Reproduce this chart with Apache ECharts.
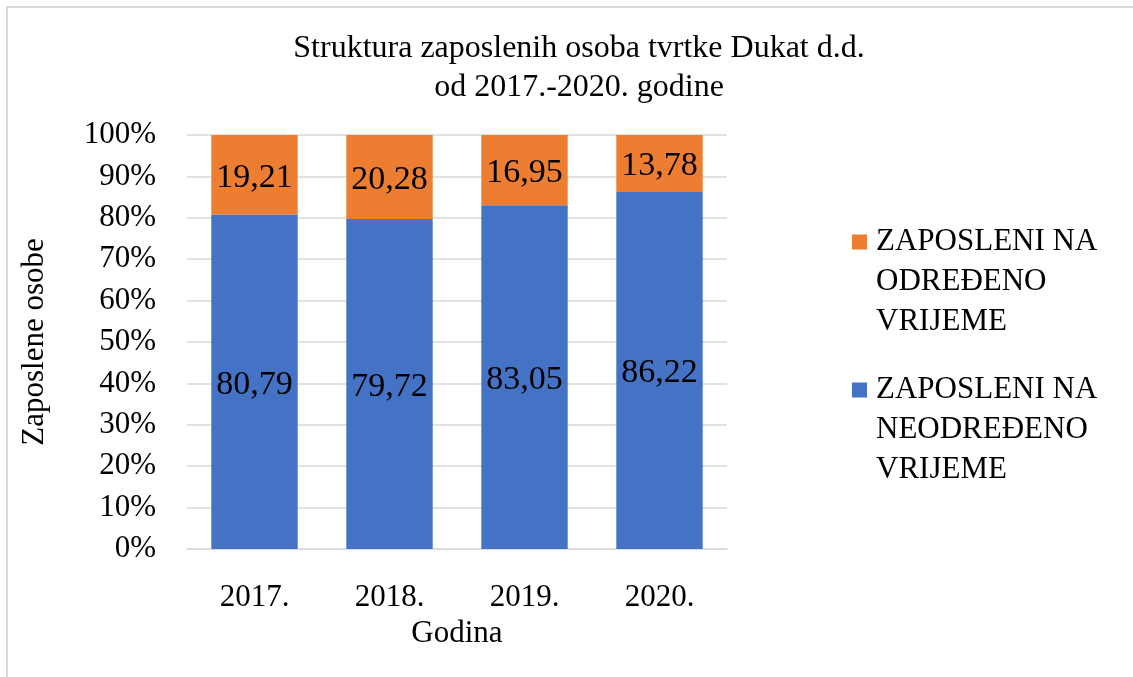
<!DOCTYPE html>
<html>
<head>
<meta charset="utf-8">
<script src="https://cdn.jsdelivr.net/npm/echarts@6/dist/echarts.min.js"></script>
<style>html,body{margin:0;padding:0;background:#fff;}#c{width:1133px;height:677px;}</style>
</head>
<body>
<div id="c"></div>
<script>
const categories = ['2017.', '2018.', '2019.', '2020.'];
const neodredeno = [80.79, 79.72, 83.05, 86.22];
const odredeno = [19.21, 20.28, 16.95, 13.78];
const nameOdredeno = 'ZAPOSLENI NA ODREĐENO VRIJEME';
const nameNeodredeno = 'ZAPOSLENI NA NEODREĐENO VRIJEME';
const legendOdredeno = ['ZAPOSLENI NA', 'ODREĐENO', 'VRIJEME'];
const legendNeodredeno = ['ZAPOSLENI NA', 'NEODREĐENO', 'VRIJEME'];
const yTicks = { min: 0, max: 100, interval: 10 };

const FONT = '"Liberation Serif", "Times New Roman", serif';
const chart = echarts.init(document.getElementById('c'), null, { renderer: 'canvas' });
const fmt = p => p.value.toFixed(2).replace('.', ',');
const legendText = {
  fontFamily: FONT, fontSize: 31, color: '#000', lineHeight: 40, padding: [0, 0, 0, 4]
};
// two leading blank lines so the icon sits beside the first text line
const legendLabel = lines => '\n\n' + lines.join('\n');
chart.setOption({
  backgroundColor: '#fff',
  animation: false,
  graphic: [{
    type: 'rect', shape: { x: 7, y: 7, width: 1200, height: 700 },
    style: { fill: 'none', stroke: '#d9d9d9', lineWidth: 2 }, silent: true
  }],
  title: {
    text: 'Struktura zaposlenih osoba tvrtke Dukat d.d.\nod 2017.-2020. godine',
    left: 574, textAlign: 'center', top: 24,
    textStyle: { fontFamily: FONT, fontSize: 32, fontWeight: 'normal', color: '#000', lineHeight: 39 }
  },
  legend: [{
    data: [nameOdredeno], orient: 'vertical', left: 852, top: 142, padding: 0,
    itemWidth: 15, itemHeight: 15, icon: 'rect',
    formatter: () => legendLabel(legendOdredeno),
    textStyle: legendText
  }, {
    data: [nameNeodredeno], orient: 'vertical', left: 852, top: 290, padding: 0,
    itemWidth: 15, itemHeight: 15, icon: 'rect',
    formatter: () => legendLabel(legendNeodredeno),
    textStyle: legendText
  }],
  grid: { left: 187, right: 406, top: 135, bottom: 128 },
  xAxis: {
    type: 'category', data: categories,
    name: 'Godina', nameLocation: 'middle', nameGap: 67,
    nameTextStyle: { fontFamily: FONT, fontSize: 31, color: '#000' },
    axisLine: { lineStyle: { color: '#d9d9d9', width: 1.5 } },
    axisTick: { show: false },
    axisLabel: { fontFamily: FONT, fontSize: 31, color: '#000', margin: 33 }
  },
  yAxis: {
    type: 'value', min: yTicks.min, max: yTicks.max, interval: yTicks.interval,
    name: 'Zaposlene osobe', nameLocation: 'middle', nameGap: 137,
    nameTextStyle: { fontFamily: FONT, fontSize: 31, color: '#000' },
    axisLine: { show: false }, axisTick: { show: false },
    splitLine: { lineStyle: { color: '#d9d9d9', width: 1.5 } },
    axisLabel: { fontFamily: FONT, fontSize: 31, color: '#000', margin: 31, formatter: '{value}%' }
  },
  series: [{
    name: nameNeodredeno, type: 'bar', stack: 'total', data: neodredeno,
    barWidth: '64%',
    itemStyle: { color: '#4472C4' },
    label: { show: true, position: 'inside', offset: [0, 3], formatter: fmt, fontFamily: FONT, fontSize: 34, color: '#000' }
  }, {
    name: nameOdredeno, type: 'bar', stack: 'total', data: odredeno,
    barWidth: '64%',
    itemStyle: { color: '#ED7D31' },
    label: { show: true, position: 'inside', offset: [0, 3], formatter: fmt, fontFamily: FONT, fontSize: 34, color: '#000' }
  }]
});
</script>
</body>
</html>
